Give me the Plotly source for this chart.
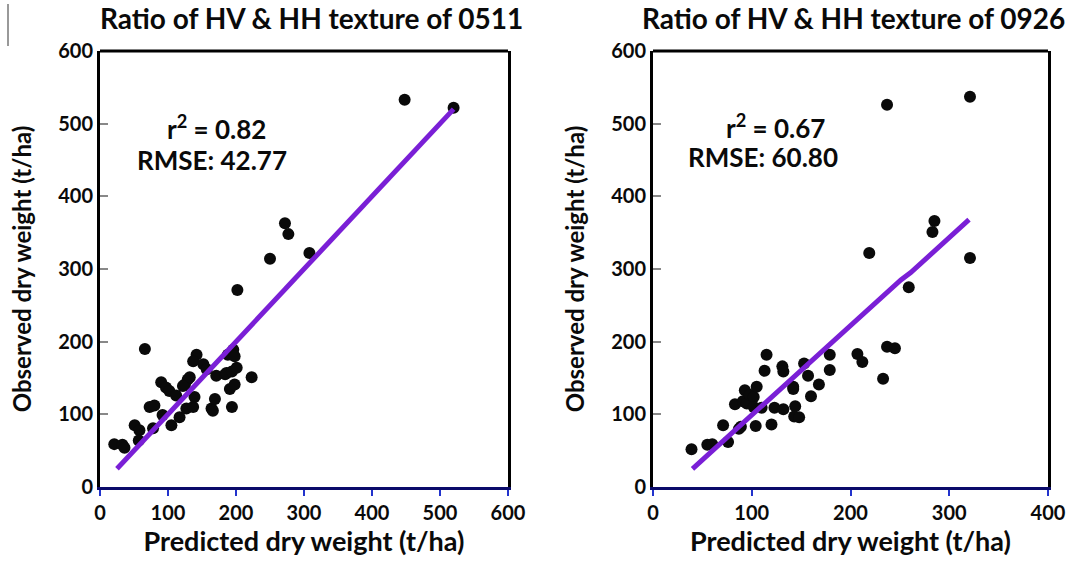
import plotly.graph_objects as go

# Predicted vs observed dry weight (t/ha), scene 0511
pred_0511 = [21, 33, 36, 51, 58, 57, 66, 73, 80, 78, 90, 97, 102, 92, 105, 112, 117,
             125, 129, 132, 127, 137, 139, 122, 142, 137, 152, 157, 164, 169, 166,
             171, 184, 186, 188, 196, 198, 194, 201, 191, 198, 194, 223, 202, 250,
             272, 277, 308, 448, 520]
obs_0511 = [59, 58, 54, 85, 78, 64, 190, 110, 112, 81, 144, 137, 132, 99, 85, 126, 96,
            141, 148, 151, 108, 110, 124, 139, 182, 173, 169, 162, 108, 121, 105,
            153, 155, 157, 182, 189, 180, 159, 164, 135, 141, 110, 151, 271, 314,
            363, 348, 322, 533, 522]
fit_x_0511 = [25, 520]
fit_y_0511 = [25, 520]

# Predicted vs observed dry weight (t/ha), scene 0926
pred_0926 = [39, 55, 60, 76, 71, 87, 89, 104, 120, 83, 91, 95, 93, 98, 102, 105, 102,
             110, 113, 115, 123, 132, 131, 132, 142, 142, 144, 143, 148, 153, 157,
             160, 168, 179, 179, 207, 212, 233, 237, 245, 219, 237, 259, 283, 285,
             321, 321]
obs_0926 = [52, 58, 59, 62, 85, 80, 83, 84, 86, 114, 118, 115, 133, 127, 124, 138, 110,
            109, 160, 182, 109, 107, 166, 159, 135, 138, 111, 97, 96, 170, 153,
            125, 141, 182, 161, 183, 172, 149, 193, 191, 322, 526, 275, 351, 366,
            315, 537]
fit_x_0926 = [40, 251, 261, 320]
fit_y_0926 = [25, 285, 295, 368]

titles = ["Ratio of HV & HH texture of 0511", "Ratio of HV & HH texture of 0926"]
stats = [("r<sup>2</sup> = 0.82", "RMSE: 42.77"), ("r<sup>2</sup> = 0.67", "RMSE: 60.80")]
x_ticks = [[0, 100, 200, 300, 400, 500, 600], [0, 100, 200, 300, 400]]
y_ticks = [0, 100, 200, 300, 400, 500, 600]

W, H = 1070, 562
FONT = "Lato"
PURPLE = "#7a1fd6"
INK = "#0a0a0a"


def px_x(p):
    return p / W


def px_y(p):
    return 1 - p / H


def bold(size):
    return dict(family=FONT, size=size, color=INK, weight="bold")


fig = go.Figure()

panels = [
    dict(xa="x", ya="y", xd=(100, 508), pred=pred_0511, obs=obs_0511,
         fx=fit_x_0511, fy=fit_y_0511, xr=600),
    dict(xa="x2", ya="y2", xd=(653, 1048), pred=pred_0926, obs=obs_0926,
         fx=fit_x_0926, fy=fit_y_0926, xr=400),
]

for p in panels:
    fig.add_trace(go.Scatter(
        x=p["pred"], y=p["obs"], mode="markers", xaxis=p["xa"], yaxis=p["ya"],
        marker=dict(color=INK, size=12), showlegend=False, cliponaxis=False))
    fig.add_trace(go.Scatter(
        x=p["fx"], y=p["fy"], mode="lines", xaxis=p["xa"], yaxis=p["ya"],
        line=dict(color=PURPLE, width=5), showlegend=False))

top_px, bot_px = 51, 487
axis_common = dict(showgrid=False, zeroline=False, showline=True, automargin=False,
                   tickfont=bold(20))

for i, p in enumerate(panels):
    sfx = "" if i == 0 else str(i + 1)
    fig.update_layout(**{
        "xaxis" + sfx: dict(
            domain=[px_x(p["xd"][0]), px_x(p["xd"][1])],
            range=[0, p["xr"]], tickvals=x_ticks[i], anchor="y" + sfx,
            linecolor="#0a0a6a", linewidth=3, mirror=False,
            ticks="outside", ticklen=6, tickwidth=2, tickcolor="#2233cc",
            title=dict(text="Predicted dry weight (t/ha)", standoff=4, font=bold(27)),
            **axis_common),
        "yaxis" + sfx: dict(
            domain=[px_y(bot_px), px_y(top_px)],
            range=[0, 600], tickvals=y_ticks, anchor="x" + sfx,
            linecolor="#000", linewidth=3, mirror=True,
            ticks="inside", ticklen=8, tickwidth=1.5, tickcolor="#888",
            title=dict(text="Observed dry weight (t/ha)", standoff=20, font=bold(24)),
            **axis_common),
    })
    # top edge of the frame
    fig.add_shape(type="line", xref="x" + sfx + " domain", yref="y" + sfx + " domain",
                  x0=0, x1=1, y0=1, y1=1, line=dict(color="#000", width=3))

title_x = [311, 853]
for i, t in enumerate(titles):
    fig.add_annotation(text=t, xref="paper", yref="paper", x=px_x(title_x[i]),
                       y=px_y(18), xanchor="center", yanchor="middle",
                       showarrow=False, font=bold(28))

stat_pos = [((216, 128), (212, 160)), ((775, 126), (763, 157))]
for i, (r2, rmse) in enumerate(stats):
    (x1, y1), (x2, y2) = stat_pos[i]
    fig.add_annotation(text=r2, xref="paper", yref="paper", x=px_x(x1), y=px_y(y1),
                       xanchor="center", yanchor="middle", showarrow=False,
                       font=bold(26))
    fig.add_annotation(text=rmse, xref="paper", yref="paper", x=px_x(x2), y=px_y(y2),
                       xanchor="center", yanchor="middle", showarrow=False,
                       font=bold(26))

# thin rule along the left edge
fig.add_shape(type="line", xref="paper", yref="paper", x0=px_x(8), x1=px_x(8),
              y0=px_y(4), y1=px_y(46), line=dict(color="#777", width=1.5))

fig.update_layout(width=W, height=H, margin=dict(l=0, r=0, t=0, b=0),
                  paper_bgcolor="white", plot_bgcolor="white")

fig.write_html("out.html")
